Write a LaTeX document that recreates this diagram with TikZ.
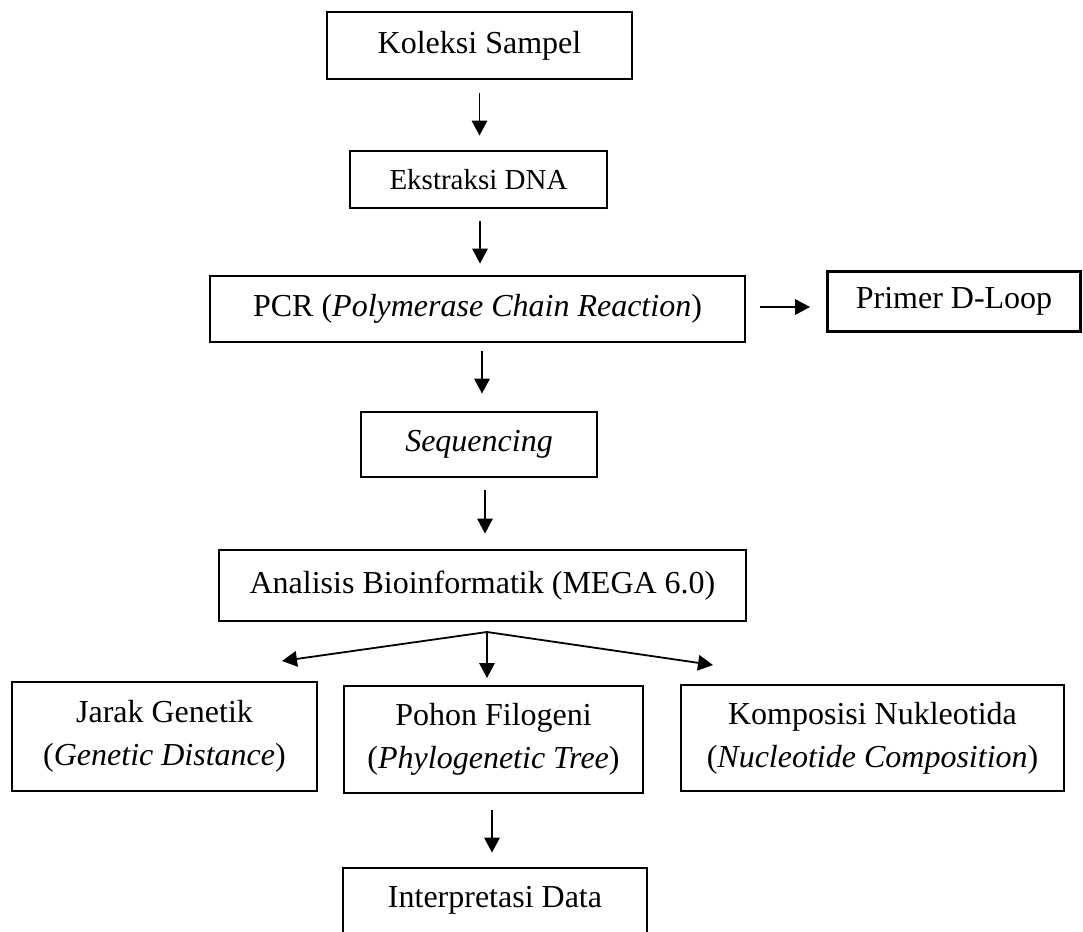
\documentclass[tikz,border=0pt]{standalone}
\usepackage{fontspec}
\setmainfont{Liberation Serif}
\usetikzlibrary{arrows.meta}
\begin{document}
\begin{tikzpicture}[x=1pt,y=-1pt,
  box/.style={draw, line width=2.9pt, inner sep=0pt, align=center,
    font=\fontsize{32}{43}\selectfont},
  arr/.style={line width=1.8pt, -{Triangle[length=15pt,width=15.5pt]}}]
\useasboundingbox (0,0) rectangle (1083,931);
\node[box, minimum width=305pt, minimum height=67pt] (k) at (479.5,45.5) {Koleksi Sampel};
\node[box, minimum width=257pt, minimum height=57pt, font=\fontsize{29}{35}\selectfont] (e) at (478.5,179.5) {Ekstraksi DNA};
\node[box, minimum width=535pt, minimum height=66pt] (p) at (477.5,309) {PCR (\textit{Polymerase Chain Reaction})};
\node[box, minimum width=253pt, minimum height=60pt] (pr) at (954,301.5) {Primer D-Loop};
\node[box, minimum width=236pt, minimum height=65pt] (s) at (479,444.5) {\textit{Sequencing}};
\node[box, minimum width=527pt, minimum height=71pt] (a) at (482.5,585.5) {Analisis Bioinformatik (MEGA 6.0)};
\node[box, minimum width=305pt, minimum height=109pt] (j) at (164.5,736.5) {Jarak Genetik\\(\textit{Genetic Distance})};
\node[box, minimum width=299pt, minimum height=107pt] (ph) at (493.5,739.5) {Pohon Filogeni\\(\textit{Phylogenetic Tree})};
\node[box, minimum width=383pt, minimum height=106pt] (ko) at (872.5,738) {Komposisi Nukleotida\\(\textit{Nucleotide Composition})};
\node[box, minimum width=304pt, minimum height=77pt] (i) at (495,906.5) {};
\node[font=\fontsize{32}{43}\selectfont] (it) at (495,900.5) {Interpretasi Data};
\coordinate (sp) at (487,632);
\coordinate (tj) at (282,661);
\coordinate (tp) at (487,678);
\coordinate (tk) at (713,665);
\draw[arr, shorten <=13pt, shorten >=14pt] (k.south) -- (k.south |- e.north);
\draw[arr, shorten <=12pt, shorten >=11pt] ([xshift=1.5pt]e.south) -- ([xshift=1.5pt]e.south |- p.north);
\draw[arr, shorten <=8pt, shorten >=17pt] ([xshift=4.5pt]p.south) -- ([xshift=4.5pt]p.south |- s.north);
\draw[arr, shorten <=12pt, shorten >=15pt] ([xshift=6pt]s.south) -- ([xshift=6pt]s.south |- a.north);
\draw[arr, shorten <=14pt, shorten >=16pt] (p.east |- 0,307) -- (pr.west |- 0,307);
\draw[arr] (sp) -- (tj);
\draw[arr] (sp) -- (tp);
\draw[arr] (sp) -- (tk);
\draw[arr, shorten <=16pt, shorten >=14pt] ([xshift=-1.5pt]ph.south) -- ([xshift=-1.5pt]ph.south |- i.north);
\end{tikzpicture}
\end{document}
